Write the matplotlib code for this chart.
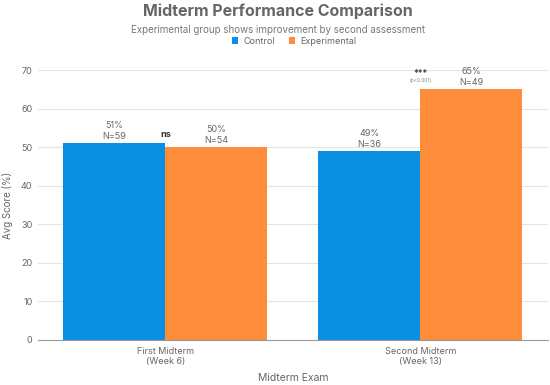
import numpy as np
import matplotlib.pyplot as plt

plt.rcParams['font.family'] = ['Inter', 'DejaVu Sans']

exams = ['First Midterm\n(Week 6)', 'Second Midterm\n(Week 13)']
control = [51, 49]
experimental = [50, 65]
n_control = [59, 36]
n_experimental = [54, 49]
sig_labels = ['ns', '***']
p_labels = ['', '(p<0.001)']

blue = '#0b8fe3'
orange = '#fd8c3b'
gray = '#666666'

fig = plt.figure(figsize=(5.5, 3.85), dpi=100)
ax = fig.add_axes([0.069, 0.117, 0.927, 0.701])

x = np.arange(len(exams))
w = 0.4
ax.bar(x - w / 2, control, w, color=blue, label='Control', zorder=2)
ax.bar(x + w / 2, experimental, w, color=orange, label='Experimental', zorder=2)

for i in x:
    ax.text(i - w / 2, control[i] + 0.6, f'{control[i]}%\nN={n_control[i]}',
            ha='center', va='bottom', fontsize=6.5, color=gray, linespacing=1.3)
    ax.text(i + w / 2, experimental[i] + 0.6, f'{experimental[i]}%\nN={n_experimental[i]}',
            ha='center', va='bottom', fontsize=6.5, color=gray, linespacing=1.3)
    top = max(control[i], experimental[i])
    if p_labels[i]:
        ax.text(i, top + 2.3, p_labels[i], ha='center', va='center', fontsize=3.5, color='#888888')
        ax.text(i, top + 4.0, sig_labels[i], ha='center', va='center', fontsize=6,
                fontweight='bold', color='#444444')
    else:
        ax.text(i, top + 2.3, sig_labels[i], ha='center', va='center', fontsize=6.5,
                fontweight='bold', color='#333333')

ax.set_xlim(-0.5, 1.5)
ax.set_ylim(0, 70)
ax.set_yticks(range(0, 71, 10))
ax.set_xticks(x)
ax.set_xticklabels(exams, fontsize=6.5, color=gray)
ax.tick_params(axis='y', labelsize=6.5, labelcolor=gray, length=0, pad=4)
ax.tick_params(axis='x', length=0, pad=5)
ax.grid(axis='y', color='#e4e4e4', linewidth=0.8, zorder=0)
for s in ['top', 'right', 'left']:
    ax.spines[s].set_visible(False)
ax.spines['bottom'].set_color('#999999')
ax.spines['bottom'].set_linewidth(0.8)

ax.set_xlabel('Midterm Exam', fontsize=7.5, color=gray, labelpad=5)
ax.set_ylabel('Avg Score (%)', fontsize=7, color=gray, labelpad=6)

fig.text(0.505, 0.972, 'Midterm Performance Comparison', ha='center', va='center',
         fontsize=11.5, fontweight='bold', color='#666666')
fig.text(0.505, 0.923, 'Experimental group shows improvement by second assessment',
         ha='center', va='center', fontsize=7, color='#777777')
fig.legend(loc='center', bbox_to_anchor=(0.535, 0.893), ncol=2, frameon=False,
           fontsize=6.5, labelcolor=gray, handlelength=0.7, handleheight=0.7,
           columnspacing=1.5, handletextpad=0.6)

fig.savefig('out.png', dpi=100)
